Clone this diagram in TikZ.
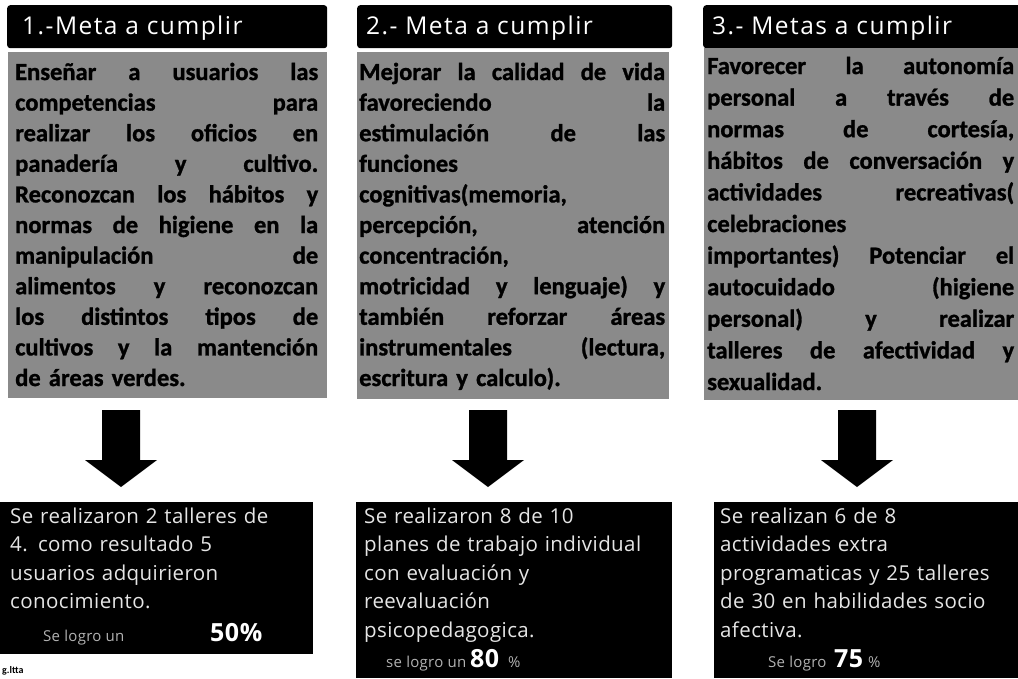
\documentclass[tikz,border=0pt]{standalone}
\usepackage{fontspec}
\setmainfont{Carlito}
\newfontfamily\bodyfont{Carlito}[BoldFeatures={FakeBold=1.2}]
\newfontfamily\titlefont{Open Sans}[LetterSpace=6]
\newfontfamily\resfont{Open Sans}[LetterSpace=2]
\usetikzlibrary{calc}
\newcommand\ja[1]{\leavevmode\hbox to 303pt{\spaceskip=0.22em plus 1fil\relax #1}}
\newcommand\jb[1]{\leavevmode\hbox to 306pt{\spaceskip=0.22em plus 1fil\relax #1}}
\newcommand\jc[1]{\leavevmode\hbox to 307pt{\spaceskip=0.22em plus 1fil\relax #1}}
\newcommand\lline[1]{\leavevmode\hbox{#1}}
\newcommand\bigarrow[1]{%
  \fill ($(#1)+(-19,0)$) -- ($(#1)+(19,0)$) -- ($(#1)+(19,50)$) -- ($(#1)+(36,50)$)
   -- ($(#1)+(0,77)$) -- ($(#1)+(-36,50)$) -- ($(#1)+(-19,50)$) -- cycle;}
\hbadness=10000
\begin{document}
\begin{tikzpicture}[x=1pt,y=-1pt,
  titlebar/.style={fill=black, rounded corners=3pt, anchor=north west, inner sep=0pt, draw=none},
  titletext/.style={anchor=base west, inner sep=0pt, text=white, font=\titlefont\fontsize{24.5}{28}\selectfont},
  bodybox/.style={fill=black!46, anchor=north west, inner sep=0pt},
  bodytext/.style={anchor=base west, inner sep=0pt, align=left, text=black, font=\bodyfont\bfseries\fontsize{24.5}{30.6}\selectfont},
  resbox/.style={fill=black, anchor=north west, inner sep=0pt},
  restext/.style={anchor=base west, inner sep=0pt, align=left, text=white!90!black, font=\resfont\fontsize{20.5}{28.5}\selectfont},
  dimtext/.style={anchor=base west, inner sep=0pt, text=white!70!black, font=\resfont\fontsize{15}{18}\selectfont},
  bignum/.style={anchor=base west, inner sep=0pt, text=white, font=\resfont\bfseries\fontsize{25}{28}\selectfont}]
\useasboundingbox (0,0) rectangle (1018,678);
\fill[white] (0,0) rectangle (1018,678);

% ---------- titles
\node[titlebar, minimum width=320pt, minimum height=43pt] (t1) at (7,5) {};
\node[titlebar, minimum width=315pt, minimum height=43pt] (t2) at (357,5) {};
\node[titlebar, minimum width=318pt, minimum height=43pt] (t3) at (703,5) {};
\node[titletext] (tt1) at (22,34) {1.-Meta a cumplir};
\node[titletext] (tt2) at (366,34) {2.- Meta a cumplir};
\node[titletext] (tt3) at (712,34) {3.- Metas a cumplir};

% ---------- bodies
\node[bodybox, minimum width=319pt, minimum height=346pt] (b1) at (8,52) {};
\node[bodybox, minimum width=312pt, minimum height=347pt] (b2) at (357,52) {};
\node[bodybox, minimum width=315pt, minimum height=352pt] (b3) at (704,48) {};

\node[bodytext, text width=303pt] (bt1) at (15,80) {%
\ja{Enseñar a usuarios las}\\
\ja{competencias para}\\
\ja{realizar los oficios en}\\
\ja{panadería y cultivo.}\\
\ja{Reconozcan los hábitos y}\\
\ja{normas de higiene en la}\\
\ja{manipulación de}\\
\ja{alimentos y reconozcan}\\
\ja{los distintos tipos de}\\
\ja{cultivos y la mantención}\\
\lline{de áreas verdes.}};

\node[bodytext, text width=306pt] (bt2) at (359,80) {%
\jb{Mejorar la calidad de vida}\\
\jb{favoreciendo la}\\
\jb{estimulación de las}\\
\lline{funciones}\\
\lline{cognitivas(memoria,}\\
\jb{percepción, atención}\\
\lline{concentración,}\\
\jb{motricidad y lenguaje) y}\\
\jb{también reforzar áreas}\\
\jb{instrumentales (lectura,}\\
\lline{escritura y calculo).}};

\node[bodytext, text width=307pt, font=\bodyfont\bfseries\fontsize{24.5}{31.6}\selectfont] (bt3) at (707,74) {%
\jc{Favorecer la autonomía}\\
\jc{personal a través de}\\
\jc{normas de cortesía,}\\
\jc{hábitos de conversación y}\\
\jc{actividades recreativas(}\\
\lline{celebraciones}\\
\jc{importantes) Potenciar el}\\
\jc{autocuidado (higiene}\\
\jc{personal) y realizar}\\
\jc{talleres de afectividad y}\\
\lline{sexualidad.}};

% ---------- arrows
\coordinate (a1) at (121,410);
\coordinate (a2) at (488,410);
\coordinate (a3) at (857,410);
\bigarrow{a1}
\bigarrow{a2}
\bigarrow{a3}

% ---------- results
\node[resbox, minimum width=313pt, minimum height=152pt] (r1) at (0,502) {};
\node[resbox, minimum width=316pt, minimum height=176pt] (r2) at (356,502) {};
\node[resbox, minimum width=304pt, minimum height=176pt] (r3) at (714,502) {};

\node[restext, text width=300pt] (rt1) at (10,523) {Se realizaron 2 talleres de\\4. como resultado 5\\usuarios adquirieron\\conocimiento.};
\node[dimtext] (p1) at (43,641) {Se logro un};
\node[bignum] (n1) at (210,641) {50\%};

\node[restext, text width=310pt] (rt2) at (364,523) {Se realizaron 8 de 10\\planes de trabajo individual\\con evaluación y\\reevaluación\\psicopedagogica.};
\node[dimtext] (p2) at (386,667) {se logro un};
\node[bignum] (n2) at (470,667) {80};
\node[dimtext] (q2) at (508,667) {\%};

\node[restext, text width=300pt] (rt3) at (720,523) {Se realizan 6 de 8\\actividades extra\\programaticas y 25 talleres\\de 30 en habilidades socio\\afectiva.};
\node[dimtext] (p3) at (768,667) {Se logro};
\node[bignum] (n3) at (834,667) {75};
\node[dimtext] (q3) at (868,667) {\%};

\node[anchor=base west, inner sep=0pt, font=\bfseries\fontsize{10}{12}\selectfont] (g) at (2,673) {g.ltta};
\end{tikzpicture}
\end{document}
